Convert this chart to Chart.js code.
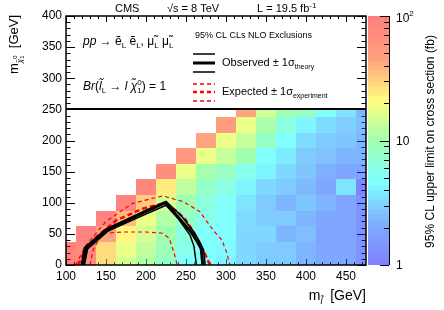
<!DOCTYPE html>
<html>
<head>
<meta charset="utf-8">
<script src="https://cdn.jsdelivr.net/npm/chart.js@4.4.0/dist/chart.umd.min.js"></script>
<style>
  html, body { margin: 0; padding: 0; background: #fff; }
  canvas { display: block; }
</style>
</head>
<body>
<canvas id="c" width="444" height="310"></canvas>
<script>
// bin centres (GeV)
const mSlepton = [100, 125, 150, 175, 200, 225, 250, 275, 300, 325, 350, 375, 400, 425, 450, 475];
const mLSP = [0, 25, 50, 75, 100, 125, 150, 175, 200, 225, 250];

// 95% CL upper limit on cross section (fb), one row per LSP mass
const limitFb = [
  [95, 70, 28, 15, 11.5, 8, 4.8, 4.6, 4.2, 3.2, 2.8, 2.8, 2.3, 1.9, 1.9, 1.4],
  [90, 75, 28, 18, 13, 9, 5.5, 4.6, 4.4, 3.2, 2.8, 2.8, 2.3, 1.9, 1.9, 1.4],
  [null, 90, 45, 22, 15, 10, 6.3, 4.8, 4.6, 3.2, 3.2, 2.3, 2.5, 1.8, 1.8, 1.4],
  [null, null, 90, 36, 18, 11.5, 8, 5.5, 4.6, 3.3, 2.8, 2.8, 2.3, 1.9, 1.9, 1.4],
  [null, null, null, 88, 32, 15, 9.5, 6.3, 4.8, 3.6, 2.8, 2.3, 2.7, 2.3, 1.9, 1.4],
  [null, null, null, null, 85, 24, 13, 8, 6, 4.2, 3.2, 2.8, 2.4, 1.9, 3.6, 1.1],
  [null, null, null, null, null, 70, 18, 10.5, 8.5, 5.5, 4.2, 3.2, 2.7, 2.2, 1.9, 1.8],
  [null, null, null, null, null, null, 55, 18, 13.5, 10, 4.6, 3.8, 2.8, 2.6, 2.3, 2.3],
  [null, null, null, null, null, null, null, 44, 18, 13.5, 8, 4.6, 3.3, 2.8, 2.7, 2.3],
  [null, null, null, null, null, null, null, null, 48, 18, 11, 6.3, 4.2, 3.3, 2.9, 2.5],
  [null, null, null, null, null, null, null, null, null, 44, 15, 10, 8, 4.6, 3.6, 2.3]
];

// exclusion contours
const obsX      = [121, 125, 150, 175, 200, 224, 240, 257, 264, 269, 271];
const obsY      = [0, 27, 56, 71, 86, 100, 77, 52, 38, 26, 0];
const obsUpX    = [119, 123, 150, 175, 200, 225, 245, 261, 268, 272, 274];
const obsUpY    = [0, 28, 58, 73, 88, 102, 78, 51, 35, 24, 0];
const obsDnX    = [123, 127, 152, 176, 200, 225, 240, 255, 260, 263];
const obsDnY    = [0, 26, 54, 68, 82, 96, 75, 48, 30, 0];
const expX      = [115, 124, 138, 163, 197, 222, 238, 250, 258, 266, 274, 280];
const expY      = [0, 24, 45, 72, 91, 99, 87, 72, 56, 36, 17, 0];
const expUpX    = [112, 125, 150, 183, 221, 246, 267, 284, 295, 301, 305];
const expUpY    = [0, 32, 70, 99, 111, 102, 86, 56, 40, 19, 0];
const expDnX    = [130, 134, 146, 170, 200, 221, 229, 235, 239];
const expDnY    = [0, 25, 51, 53, 53, 51, 43, 20, 0];

const xTickVals = [100, 150, 200, 250, 300, 350, 400, 450];
const yTickVals = [0, 50, 100, 150, 200, 250, 300, 350, 400];
const zTickVals = [1, 10, 100];

const FONT = '"Liberation Sans", Arial, Helvetica, sans-serif';

const pts = (xs, ys) => xs.map((x, i) => ({x: x, y: ys[i]}));

// ROOT like rainbow palette (drawn at 50% alpha)
const palStops = [
  [0, [0, 0, 255]], [0.17, [0, 96, 255]], [0.33, [0, 255, 255]], [0.5, [64, 255, 96]],
  [0.66, [255, 255, 0]], [0.83, [255, 64, 0]], [1, [255, 0, 0]]
];
function palette(t) {
  t = Math.max(0, Math.min(1, t));
  for (let i = 1; i < palStops.length; i++) {
    if (t <= palStops[i][0]) {
      const a = palStops[i - 1], b = palStops[i];
      const f = (t - a[0]) / (b[0] - a[0]);
      const c = a[1].map((v, k) => Math.round(v + f * (b[1][k] - v)));
      return 'rgb(' + c.join(',') + ')';
    }
  }
  return 'rgb(255,0,0)';
}

// rich text: parts = [text, size, dy, italic, noAdvance]
function txt(ctx, x, y, parts, align) {
  let w = 0;
  const ws = parts.map(p => {
    ctx.font = (p[3] ? 'italic ' : '') + p[1] + 'px ' + FONT;
    const pw = ctx.measureText(p[0]).width;
    if (!p[4]) w += pw;
    return pw;
  });
  let cx = align === 'right' ? x - w : align === 'center' ? x - w / 2 : x;
  parts.forEach((p, i) => {
    ctx.font = (p[3] ? 'italic ' : '') + p[1] + 'px ' + FONT;
    ctx.fillText(p[0], cx, y + (p[2] || 0));
    if (!p[4]) cx += ws[i];
  });
}

function drawTicks(chart, ctx, clip) {
  const a = chart.chartArea, xs = chart.scales.x, ys = chart.scales.y;
  ctx.save();
  if (clip) { ctx.beginPath(); ctx.rect(clip[0], clip[1], clip[2], clip[3]); ctx.clip(); }
  ctx.strokeStyle = '#000';
  ctx.lineWidth = 1;
  ctx.beginPath();
  for (let v = 100; v <= 475; v += 10) {
    const px = Math.round(xs.getPixelForValue(v)) + 0.5;
    const len = v % 50 === 0 ? 6 : 3;
    ctx.moveTo(px, a.bottom); ctx.lineTo(px, a.bottom - len);
    ctx.moveTo(px, a.top); ctx.lineTo(px, a.top + len);
  }
  for (let v = 0; v <= 400; v += 10) {
    const py = Math.round(ys.getPixelForValue(v)) + 0.5;
    const len = v % 50 === 0 ? 9 : 4.5;
    ctx.moveTo(a.left, py); ctx.lineTo(a.left + len, py);
    ctx.moveTo(a.right, py); ctx.lineTo(a.right - len, py);
  }
  ctx.stroke();
  ctx.restore();
}

const cmsPlugin = {
  id: 'cms',
  beforeDatasetsDraw(chart) {
    const ctx = chart.ctx, a = chart.chartArea, xs = chart.scales.x, ys = chart.scales.y;
    drawTicks(chart, ctx);
    ctx.save();
    ctx.beginPath(); ctx.rect(a.left, a.top, a.right - a.left, a.bottom - a.top); ctx.clip();
    ctx.globalAlpha = 0.5;
    limitFb.forEach((row, j) => {
      row.forEach((v, i) => {
        if (v == null) return;
        const x0 = Math.round(xs.getPixelForValue(mSlepton[i] - 12.5));
        const x1 = Math.round(xs.getPixelForValue(mSlepton[i] + 12.5));
        const y0 = Math.round(ys.getPixelForValue(mLSP[j] + 12.5));
        const y1 = Math.round(ys.getPixelForValue(mLSP[j] - 12.5));
        ctx.fillStyle = palette(Math.log10(v) / 2);
        ctx.fillRect(x0, y0, x1 - x0, y1 - y0);
      });
    });
    ctx.restore();
  },
  afterDatasetsDraw(chart) {
    const ctx = chart.ctx, a = chart.chartArea, xs = chart.scales.x, ys = chart.scales.y, cb = chart.scales.cb;
    const boxB = Math.round(ys.getPixelForValue(250));

    // legend box
    ctx.save();
    ctx.fillStyle = '#fff';
    ctx.fillRect(a.left, a.top, a.right - a.left, boxB - a.top);
    ctx.restore();
    drawTicks(chart, ctx, [a.left, a.top, a.right - a.left, boxB - a.top]);

    // frame
    ctx.save();
    ctx.strokeStyle = '#000';
    ctx.lineWidth = 1.5;
    ctx.strokeRect(a.left, a.top, a.right - a.left, a.bottom - a.top);
    ctx.lineWidth = 2;
    ctx.beginPath(); ctx.moveTo(a.left, boxB); ctx.lineTo(a.right, boxB); ctx.stroke();
    ctx.restore();

    ctx.save();
    ctx.fillStyle = '#000';
    ctx.textBaseline = 'alphabetic';

    // header
    txt(ctx, 115, 12, [['CMS', 11]]);
    txt(ctx, 167, 12, [['√s = 8 TeV', 11]]);
    txt(ctx, 257, 12, [['L = 19.5 fb', 11], ['-1', 8, -4]]);

    // process text
    txt(ctx, 83, 45, [['pp', 12, 0, true], [' → ', 12], ['ẽ', 12], ['L', 8, 3], [' ', 12], ['ẽ', 12], ['L', 8, 3],
      [', ', 12], ['μ̃', 12], ['L', 8, 3], [' ', 12], ['μ̃', 12], ['L', 8, 3]]);
    txt(ctx, 83, 90, [['Br', 12, 0, true], ['(', 12], ['l̃', 12, 0, true], ['L', 8, 3], [' → ', 12], ['l', 12, 0, true],
      [' ', 12], ['χ̃', 12, 0, true], ['0', 8, -5, false, true], ['1', 8, 3], [') = 1', 12]]);

    // legend
    txt(ctx, 195, 38, [['95% CL CLs NLO Exclusions', 9]]);
    txt(ctx, 222, 66, [['Observed ± 1σ', 11], ['theory', 7, 3]]);
    txt(ctx, 222, 95, [['Expected ± 1σ', 11], ['experiment', 7, 3]]);
    const lx0 = 193, lx1 = 215;
    ctx.strokeStyle = '#000';
    [[54, 1.5], [63, 3], [72, 1.5]].forEach(([y, w]) => {
      ctx.lineWidth = w; ctx.beginPath(); ctx.moveTo(lx0, y); ctx.lineTo(lx1, y); ctx.stroke();
    });
    ctx.strokeStyle = '#ff0000';
    ctx.setLineDash([4, 3]);
    [[84, 1.5], [92, 2.5], [101, 1.5]].forEach(([y, w]) => {
      ctx.lineWidth = w; ctx.beginPath(); ctx.moveTo(lx0, y); ctx.lineTo(lx1, y); ctx.stroke();
    });
    ctx.setLineDash([]);

    // axis titles
    txt(ctx, a.right, 300, [['m', 14], ['l̃', 9, 4, true], ['  [GeV]', 14]], 'right');
    ctx.save();
    ctx.translate(18, a.top - 1);
    ctx.rotate(-Math.PI / 2);
    txt(ctx, 0, 0, [['m', 13], ['χ̃', 8, 4, true], ['0', 6, -1, false, true], ['1', 6, 6], ['  [GeV]', 13]], 'right');
    ctx.restore();

    // colour bar
    const cx0 = a.right + 2, cx1 = a.right + 23;
    ctx.save();
    ctx.globalAlpha = 0.5;
    const nb = 50;
    for (let i = 0; i < nb; i++) {
      const v0 = Math.pow(10, 2 * i / nb), v1 = Math.pow(10, 2 * (i + 1) / nb);
      const y0 = Math.round(cb.getPixelForValue(v1)), y1 = Math.round(cb.getPixelForValue(v0));
      ctx.fillStyle = palette((i + 0.5) / nb);
      ctx.fillRect(cx0, y0, cx1 - cx0, y1 - y0);
    }
    ctx.restore();
    ctx.fillStyle = '#000';
    ctx.strokeStyle = '#000';
    ctx.lineWidth = 1;
    ctx.beginPath();
    for (let d = 1; d <= 100; d *= 10) {
      for (let k = 1; k < 10; k++) {
        const v = d * k;
        if (v > 100) break;
        const py = Math.round(cb.getPixelForValue(v)) + 0.5;
        const len = k === 1 ? 9 : 5;
        ctx.moveTo(cx1, py); ctx.lineTo(cx1 - len, py);
      }
    }
    ctx.stroke();
    ctx.beginPath(); ctx.moveTo(cx1 + 0.5, a.top); ctx.lineTo(cx1 + 0.5, a.bottom); ctx.stroke();
    zTickVals.forEach(v => {
      const py = cb.getPixelForValue(v) + 4;
      if (v === 100) txt(ctx, cx1 + 7, py + 2, [['10', 12], ['2', 8, -6]]);
      else txt(ctx, cx1 + 7, py, [[String(v), 12]]);
    });
    ctx.save();
    ctx.translate(434, (a.top + a.bottom) / 2 + 1);
    ctx.rotate(-Math.PI / 2);
    txt(ctx, 0, 0, [['95% CL upper limit on cross section (fb)', 12]], 'center');
    ctx.restore();

    ctx.restore();
  }
};

const lineDs = (xs, ys, color, width, dash) => ({
  data: pts(xs, ys),
  showLine: true,
  borderColor: color,
  borderWidth: width,
  borderDash: dash || [],
  pointRadius: 0,
  fill: false
});

new Chart(document.getElementById('c'), {
  type: 'scatter',
  data: {
    datasets: [
      lineDs(obsX, obsY, '#000', 3),
      lineDs(obsUpX, obsUpY, '#000', 1.5),
      lineDs(obsDnX, obsDnY, '#000', 1.5),
      lineDs(expX, expY, '#ff0000', 2.5, [5, 3]),
      lineDs(expUpX, expUpY, '#ff0000', 1.2, [4, 3]),
      lineDs(expDnX, expDnY, '#ff0000', 1.2, [4, 3])
    ]
  },
  options: {
    responsive: false,
    animation: false,
    devicePixelRatio: 1,
    layout: { padding: { top: 16, left: 0, right: 0, bottom: 0 } },
    plugins: { legend: { display: false }, tooltip: { enabled: false } },
    elements: { line: { tension: 0 } },
    scales: {
      x: {
        type: 'linear', min: 100, max: 475,
        grid: { display: false, drawTicks: false },
        border: { display: false },
        afterBuildTicks: s => { s.ticks = xTickVals.map(v => ({ value: v })); },
        afterFit: s => { s.height = 45; },
        ticks: { color: '#000', font: { size: 12, family: FONT }, padding: 4, maxRotation: 0, autoSkip: false }
      },
      y: {
        type: 'linear', min: 0, max: 400,
        grid: { display: false, drawTicks: false },
        border: { display: false },
        afterBuildTicks: s => { s.ticks = yTickVals.map(v => ({ value: v })); },
        afterFit: s => { s.width = 66; },
        ticks: { color: '#000', font: { size: 12, family: FONT }, padding: 4, autoSkip: false }
      },
      cb: {
        type: 'logarithmic', position: 'right', min: 1, max: 100,
        grid: { display: false, drawTicks: false },
        border: { display: false },
        ticks: { display: false },
        afterFit: s => { s.width = 78; }
      }
    }
  },
  plugins: [cmsPlugin]
});
</script>
</body>
</html>
